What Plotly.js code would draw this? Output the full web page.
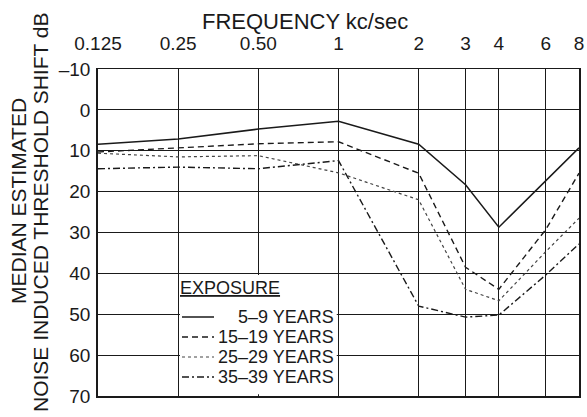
<!DOCTYPE html>
<html>
<head>
<meta charset="utf-8">
<script src="https://cdn.plot.ly/plotly-3.0.1.min.js"></script>
<style>html,body{margin:0;padding:0;background:#fff;}#chart{width:587px;height:417px;}</style>
</head>
<body>
<div id="chart"></div>
<script>
// ---- data ----
var frequencies = [0.125, 0.25, 0.5, 1, 2, 3, 4, 6, 8];
var freqTickText = ['0.125', '0.25', '0.50', '1', '2', '3', '4', '6', '8'];
var dbTickVals = [-10, 0, 10, 20, 30, 40, 50, 60, 70];
var dbTickText = ['\u201310', '0', '10', '20', '30', '40', '50', '60', '70'];
var seriesNames = ['5\u20139 YEARS', '15\u201319 YEARS', '25\u201329 YEARS', '35\u201339 YEARS'];
var years5to9   = [8.4, 7.1, 4.7, 2.8, 8.4, 18.3, 28.7, 17.3, 9.3];
var years15to19 = [10.3, 9.3, 8.3, 7.8, 15.5, 38.5, 43.9, 29.3, 15.5];
var years25to29 = [10.6, 11.5, 11.2, 15.4, 22.0, 43.9, 46.7, 34.7, 26.5];
var years35to39 = [14.4, 14.0, 14.4, 12.4, 48.0, 50.7, 50.2, 40.4, 32.8];

// ---- styles ----
var FONT = 'Liberation Sans, Arial, Helvetica, sans-serif';
var INK = '#1a1a1a';
var dashStyles = ['solid', '6px,4px', 'dot', '7px,3px,2px,3px'];
var lineWidths = [1.5, 1.4, 1.2, 1.4];
var lineColors = [INK, INK, '#444', INK];
var allSeries = [years5to9, years15to19, years25to29, years35to39];

// plot-area pixel geometry (for decorations only)
var M = {l: 98, r: 8, t: 69, b: 21};
var W = 587, H = 417;
var PW = W - M.l - M.r, PH = H - M.t - M.b;
function px(x) { return (x - M.l) / PW; }
function py(y) { return (H - M.b - y) / PH; }

var traces = allSeries.map(function (vals, i) {
  return {
    x: frequencies, y: vals, type: 'scatter', mode: 'lines', name: seriesNames[i],
    line: {color: lineColors[i], width: lineWidths[i], dash: dashStyles[i]},
    showlegend: false, hoverinfo: 'skip'
  };
});

var annotations = [
  {text: 'FREQUENCY kc/sec', xref: 'paper', yref: 'paper', x: px(305), y: py(21),
   xanchor: 'center', yanchor: 'middle', showarrow: false, font: {family: FONT, size: 22, color: INK}},
  {text: 'MEDIAN ESTIMATED', xref: 'paper', yref: 'paper', x: px(18), y: py(201), textangle: -90,
   xanchor: 'center', yanchor: 'middle', showarrow: false, font: {family: FONT, size: 21, color: INK}},
  {text: 'NOISE INDUCED THRESHOLD SHIFT dB', xref: 'paper', yref: 'paper', x: px(40), y: py(213), textangle: -90,
   xanchor: 'center', yanchor: 'middle', showarrow: false, font: {family: FONT, size: 21, color: INK}},
  {text: '<u>EXPOSURE</u>', xref: 'paper', yref: 'paper', x: px(178), y: py(288),
   xanchor: 'left', yanchor: 'middle', showarrow: false, font: {family: FONT, size: 18, color: INK}}
];
var shapes = [
  {type: 'rect', xref: 'x', yref: 'y', x0: 0.254, x1: 0.985, y0: 40.4, y1: 69.6,
   fillcolor: '#fff', line: {width: 0}, layer: 'between'}
];
var rowY = [317, 337, 357, 377];
seriesNames.forEach(function (nm, i) {
  annotations.push({text: nm, xref: 'paper', yref: 'paper', x: px(336), y: py(rowY[i]),
    xanchor: 'right', yanchor: 'middle', showarrow: false, font: {family: FONT, size: 18, color: INK}});
  shapes.push({type: 'line', xref: 'paper', yref: 'paper', x0: px(182), x1: px(214),
    y0: py(rowY[i]), y1: py(rowY[i]), line: {color: lineColors[i], width: lineWidths[i], dash: dashStyles[i]}, layer: 'above'});
});

var layout = {
  width: W, height: H,
  margin: M,
  paper_bgcolor: '#fff', plot_bgcolor: '#fff',
  font: {family: FONT, color: INK},
  showlegend: false,
  xaxis: {
    type: 'log', side: 'top',
    range: [Math.log10(frequencies[0]), Math.log10(frequencies[frequencies.length - 1])],
    tickmode: 'array', tickvals: frequencies, ticktext: freqTickText,
    showgrid: true, gridcolor: INK, gridwidth: 1.1,
    showline: true, linecolor: INK, linewidth: 1.5, mirror: true,
    ticks: '', ticklabelstandoff: 10,
    tickfont: {family: FONT, size: 19, color: INK},
    zeroline: false, fixedrange: true
  },
  yaxis: {
    range: [70, -10],
    tickmode: 'array', tickvals: dbTickVals, ticktext: dbTickText,
    showgrid: true, gridcolor: INK, gridwidth: 1.1,
    showline: true, linecolor: INK, linewidth: 1.8, mirror: true,
    ticks: '', ticklabelstandoff: 2,
    tickfont: {family: FONT, size: 19, color: INK},
    zeroline: false, fixedrange: true
  },
  annotations: annotations,
  shapes: shapes
};

Plotly.newPlot('chart', traces, layout, {staticPlot: true, displayModeBar: false});
</script>
</body>
</html>
